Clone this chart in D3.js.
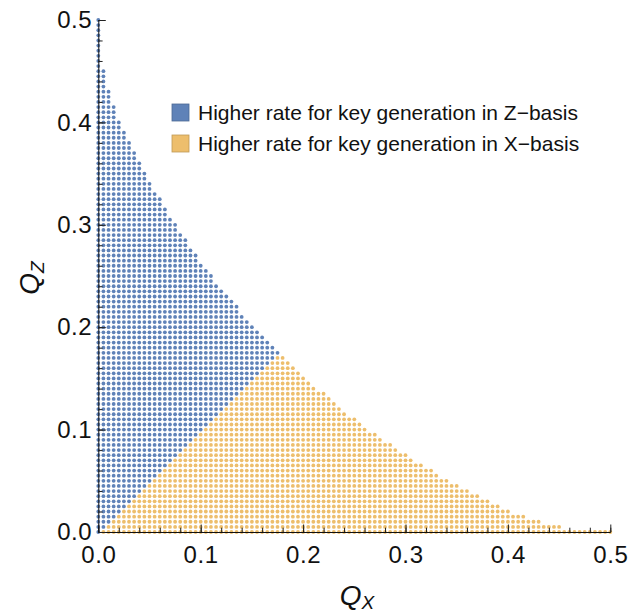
<!DOCTYPE html>
<html>
<head>
<meta charset="utf-8">
<script src="https://cdn.jsdelivr.net/npm/d3@7"></script>
<style>
  body { margin: 0; background: #fff; }
  text { font-family: "Liberation Sans", Arial, sans-serif; }
</style>
</head>
<body>
<svg id="chart" width="641" height="615"></svg>
<script>
// grid spacing of the sampled (Qx, Qz) points
const step = 0.005;

// for each Qx column (0 .. 100) the highest Qz row index that still has a dot
const colTop = [
  100, 90, 86, 83, 80, 78, 76, 74, 72, 70,
   68, 66, 65, 63, 61, 60, 58, 57, 55, 54,
   52, 51, 50, 48, 47, 46, 45, 44, 42, 41,
   40, 39, 38, 37, 36, 35, 34, 33, 32, 31,
   30, 29, 28, 27, 27, 26, 25, 24, 23, 22,
   22, 21, 20, 19, 19, 18, 17, 17, 16, 15,
   15, 14, 13, 13, 12, 12, 11, 10, 10,  9,
    9,  8,  8,  7,  7,  6,  6,  5,  5,  4,
    4,  3,  3,  3,  2,  2,  2,  1,  1,  1,
    1,  0,  0,  0,  0,  0,  0,  0,  0,  0,
    0
];

const seriesNames = ["Higher rate for key generation in Z\u2212basis",
                     "Higher rate for key generation in X\u2212basis"];
const seriesColors = ["#5f82b8", "#edbe6c"];

const qxTicks = [0, 0.1, 0.2, 0.3, 0.4, 0.5];
const qzTicks = [0, 0.1, 0.2, 0.3, 0.4, 0.5];

// build points: blue where Qz >= Qx, orange otherwise
let points = [];
colTop.forEach((top, i) => {
  for (let j = 0; j <= top; j++) {
    points.push({ qx: i * step, qz: j * step, s: j >= i ? 0 : 1 });
  }
});

const svg = d3.select("#chart");

const x = d3.scaleLinear().domain([0, 0.5]).range([98.3, 610.3]);
const y = d3.scaleLinear().domain([0, 0.5]).range([532, 20]);

// dots
svg.append("g")
  .selectAll("circle")
  .data(points)
  .enter().append("circle")
    .attr("cx", d => x(d.qx))
    .attr("cy", d => y(d.qz))
    .attr("r", 1.9)
    .attr("fill", d => seriesColors[d.s]);

const fmt = d3.format(".1f");

// x axis, ticks pointing up
let gx = svg.append("g").attr("transform", `translate(0,${y(0)})`);
gx.call(d3.axisBottom(x).tickValues(qxTicks).tickFormat(fmt)
    .tickSizeInner(-7.5).tickSizeOuter(0).tickPadding(14));
gx.append("g").call(d3.axisBottom(x).ticks(25).tickFormat("")
    .tickSizeInner(-4.3).tickSizeOuter(0))
  .select(".domain").remove();

// y axis, ticks pointing right
let gy = svg.append("g").attr("transform", `translate(${x(0)},0)`);
gy.call(d3.axisLeft(y).tickValues(qzTicks).tickFormat(fmt)
    .tickSizeInner(-7.5).tickSizeOuter(0).tickPadding(6));
gy.append("g").call(d3.axisLeft(y).ticks(25).tickFormat("")
    .tickSizeInner(-4.3).tickSizeOuter(0))
  .select(".domain").remove();

svg.selectAll(".domain").attr("stroke", "#111");
svg.selectAll(".tick line").attr("stroke", "#222");
svg.selectAll(".tick text")
  .attr("font-size", 24)
  .attr("letter-spacing", 0.6)
  .attr("font-family", "'Liberation Sans', Arial, sans-serif")
  .attr("fill", "#111");

// axis titles
let tx = svg.append("text")
  .attr("x", 357).attr("y", 605)
  .attr("text-anchor", "middle")
  .attr("font-size", 28)
  .attr("font-style", "italic")
  .attr("fill", "#111");
tx.append("tspan").text("Q");
tx.append("tspan").attr("font-size", 19).attr("dy", 4).text("X");

let ty = svg.append("text")
  .attr("transform", "translate(39,278) rotate(-90)")
  .attr("text-anchor", "middle")
  .attr("font-size", 28)
  .attr("font-style", "italic")
  .attr("fill", "#111");
ty.append("tspan").text("Q");
ty.append("tspan").attr("font-size", 19).attr("dy", 5).text("Z");

// legend
let legend = svg.append("g").attr("transform", "translate(172,104)")
  .selectAll("g")
  .data(seriesNames)
  .enter().append("g")
    .attr("transform", (d, i) => `translate(0,${i * 31})`);

legend.append("rect")
  .attr("width", 17).attr("height", 17)
  .attr("fill", (d, i) => seriesColors[i])
  .attr("stroke", (d, i) => d3.color(seriesColors[i]).darker(0.6))
  .attr("stroke-width", 0.8);

legend.append("text")
  .attr("x", 26).attr("y", 15.5)
  .attr("font-size", 21)
  .attr("fill", "#111")
  .text(d => d);
</script>
</body>
</html>
